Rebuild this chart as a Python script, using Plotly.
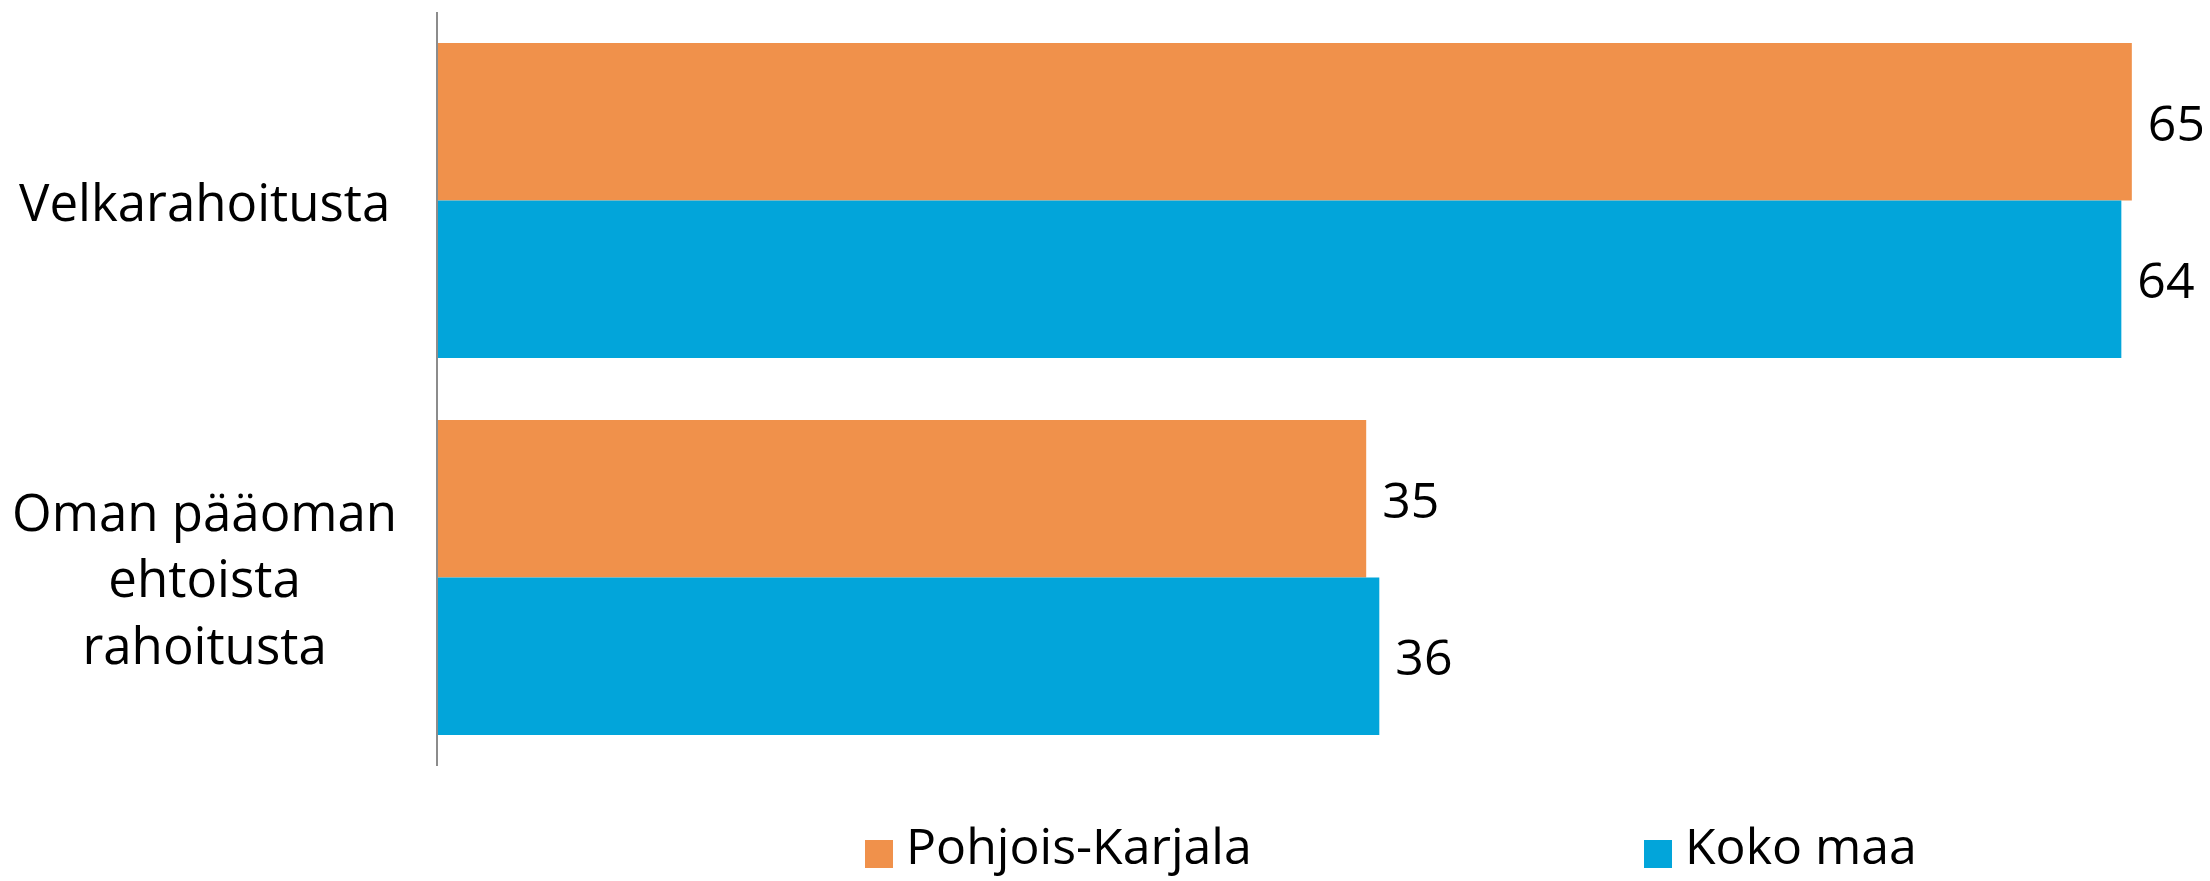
import plotly.graph_objects as go

# ---- data ----
categories = ["Velkarahoitusta", "Oman pääoman<br>ehtoista<br>rahoitusta"]
series_names = ["Pohjois-Karjala", "Koko maa"]
pohjois_karjala = [64.6, 35.4]
koko_maa = [64.2, 35.9]
label_pk = ["65", "35"]
label_km = ["64", "36"]

colors = ["#F0914B", "#02A5DA"]
FONT = "Open Sans"

OFF = 8  # page body margin
W, H = 2210 - OFF, 881 - OFF
ML, MR, MT, MB = 438 - OFF, 10, 12 - OFF, 115
PW = W - ML - MR
PH = H - MT - MB


def px_x(px):
    # px in reference-image pixels
    return (px - OFF - ML) / PW


def px_y(py):
    return (H - MB - (py - OFF)) / PH


fig = go.Figure()
for name, vals, labels, col in [
    (series_names[0], pohjois_karjala, label_pk, colors[0]),
    (series_names[1], koko_maa, label_km, colors[1]),
]:
    fig.add_trace(go.Bar(
        y=categories, x=vals, name=name, orientation="h",
        marker=dict(color=col, line=dict(width=0)),
        text=[" " + t for t in labels], textposition="outside",
        textfont=dict(family=FONT, size=50, color="black"),
        constraintext="none", cliponaxis=False,
        showlegend=False,
    ))

annotations = []
for c in categories:
    annotations.append(dict(
        text=c, xref="paper", yref="y", x=px_x(204), y=c,
        xanchor="center", yanchor="middle", align="center", showarrow=False,
        font=dict(family=FONT, size=51, color="black"),
    ))

shapes = []
legend_sq_x = [865, 1644]
for i, name in enumerate(series_names):
    x0 = legend_sq_x[i]
    shapes.append(dict(
        type="rect", xref="paper", yref="paper",
        x0=px_x(x0), x1=px_x(x0 + 28), y0=px_y(868), y1=px_y(840),
        fillcolor=colors[i], line=dict(width=0),
    ))
    annotations.append(dict(
        text=name, xref="paper", yref="paper", x=px_x(x0 + 39), y=px_y(845),
        xanchor="left", yanchor="middle", showarrow=False,
        font=dict(family=FONT, size=50, color="black"),
    ))

fig.update_layout(
    width=W, height=H,
    margin=dict(l=ML, r=MR, t=MT, b=MB),
    paper_bgcolor="white", plot_bgcolor="white",
    barmode="group", bargap=0.165, bargroupgap=0,
    showlegend=False,
    xaxis=dict(range=[0, 67.2], showgrid=False, zeroline=False,
               showticklabels=False, ticks="", showline=False),
    yaxis=dict(autorange="reversed", showgrid=False, zeroline=False,
               showticklabels=False, ticks="", showline=True,
               linecolor="#8c8c8c", linewidth=2),
    annotations=annotations, shapes=shapes,
)

fig.write_html("out.html")
